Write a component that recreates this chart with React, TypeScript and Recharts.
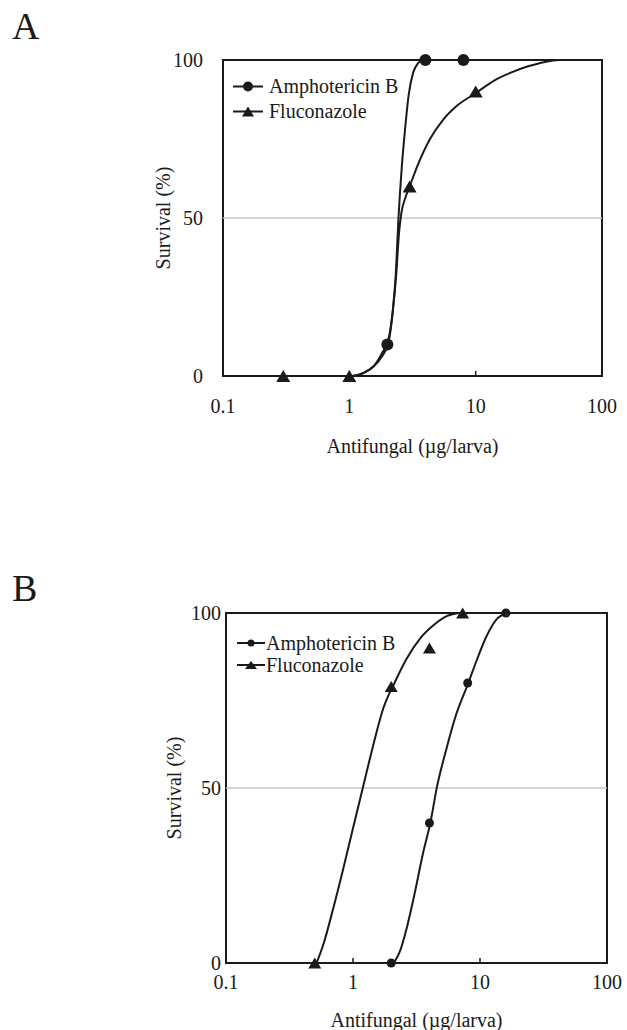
import React from "react";
import {
  ComposedChart,
  Line,
  Scatter,
  XAxis,
  YAxis,
  ReferenceLine,
  ReferenceArea,
  Legend
} from "recharts";

const xTicks = [0.1, 1, 10, 100];
const yTicks = [0, 50, 100];
const seriesNames = ["Amphotericin B", "Fluconazole"];

// Panel A - measured points
const ampAX = [2, 4, 8];
const ampAY = [10, 100, 100];
const fluAX = [0.3, 1, 3, 10];
const fluAY = [0, 0, 60, 90];

// Panel A - fitted curves
const ampACurveX = [1.05, 1.3, 1.55, 1.8, 2.05, 2.2, 2.33, 2.45, 2.6, 2.76, 2.95, 3.2, 3.5, 3.8, 8];
const ampACurveY = [0, 1, 3, 6, 11, 20, 32, 50, 66, 78, 89, 96, 99, 100, 100];
const fluACurveX = [1.05, 1.3, 1.55, 1.8, 2.05, 2.2, 2.35, 2.47, 2.58, 2.78, 3, 3.5, 4.35, 5.5, 7.1, 10, 14, 19, 26, 32, 46, 100];
const fluACurveY = [0, 1, 3, 7, 12, 20, 32, 45, 51.5, 56.5, 60, 67, 75, 81, 85.5, 89.5, 93.5, 96, 98, 99, 100, 100];

// Panel B - measured points
const ampBX = [2, 4, 8, 16];
const ampBY = [0, 40, 80, 100];
const fluBX = [0.5, 2, 4, 7.3];
const fluBY = [0, 79, 90, 100];

// Panel B - fitted curves
const ampBCurveX = [2.1, 2.34, 2.65, 3.08, 3.58, 4.04, 4.6, 5.47, 6.36, 8.09, 9.42, 11.3, 13.5, 16.2];
const ampBCurveY = [0, 3.3, 10, 20.4, 31.8, 39.6, 50.6, 61.5, 70, 80, 86.5, 93.5, 98.2, 100];
const fluBCurveX = [0.517, 0.583, 0.7, 0.84, 1.0, 1.205, 1.445, 1.73, 2.14, 2.65, 3.37, 4.3, 5.47, 6.75];
const fluBCurveY = [0, 5.2, 15.7, 27.1, 38.5, 50.6, 62.3, 72.7, 80.3, 87, 92.7, 96.5, 99.1, 100];

const zip = (xs: number[], ys: number[]) => xs.map((x, i) => ({ x, y: ys[i] }));

const FONT = '"Liberation Serif", "Times New Roman", serif';
const INK = "#1a1a1a";

const circleShape = (r: number) => (props: any) =>
  <circle cx={props.cx} cy={props.cy} r={r} fill={INK} />;

const triangleShape = (hw: number, h: number) => (props: any) => {
  const { cx, cy } = props;
  return (
    <polygon
      points={`${cx},${cy - h / 2} ${cx - hw},${cy + h / 2} ${cx + hw},${cy + h / 2}`}
      fill={INK}
    />
  );
};

const LegendBox = ({ rowH, iconW, lineW, r, hw, h }: any) => (
  <div style={{ fontFamily: FONT, fontSize: 20, color: INK }}>
    {seriesNames.map((name, i) => (
      <div key={name} style={{ display: "flex", alignItems: "center", height: rowH }}>
        <svg width={iconW} height={rowH}>
          <line x1={0} x2={lineW} y1={rowH / 2} y2={rowH / 2} stroke={INK} strokeWidth={2} />
          {i === 0 ? (
            <circle cx={lineW / 2} cy={rowH / 2} r={r} fill={INK} />
          ) : (
            <polygon
              points={`${lineW / 2},${rowH / 2 - h / 2} ${lineW / 2 - hw},${rowH / 2 + h / 2} ${lineW / 2 + hw},${rowH / 2 + h / 2}`}
              fill={INK}
            />
          )}
        </svg>
        <span>{name}</span>
      </div>
    ))}
  </div>
);

const Panel = ({ cfg, amp, flu, ampCurve, fluCurve }: any) => (
  <ComposedChart width={627} height={cfg.height} margin={cfg.margin}>
    <ReferenceLine y={50} stroke="#c8c8c8" strokeWidth={1.5} />
    <XAxis
      dataKey="x"
      type="number"
      scale="log"
      domain={[0.1, 100]}
      ticks={xTicks}
      allowDataOverflow
      height={cfg.xAxisHeight}
      axisLine={false}
      tickSize={-5}
      tickMargin={cfg.xTickMargin}
      tickLine={{ stroke: INK, strokeWidth: 1.5 }}
      tick={{ fontFamily: FONT, fontSize: 20, fill: INK }}
      label={{
        value: "Antifungal (\u00b5g/larva)",
        position: "insideBottom",
        offset: cfg.xLabelOffset,
        style: { fontFamily: FONT, fontSize: 20, fill: INK }
      }}
    />
    <YAxis
      dataKey="y"
      type="number"
      domain={[0, 100]}
      ticks={yTicks}
      width={60}
      axisLine={false}
      tickLine={false}
      tickSize={0}
      tickMargin={cfg.yTickMargin}
      tick={{ fontFamily: FONT, fontSize: 20, fill: INK }}
      label={{
        value: "Survival (%)",
        angle: -90,
        position: "insideLeft",
        offset: cfg.yLabelOffset,
        style: { fontFamily: FONT, fontSize: 20, fill: INK, textAnchor: "middle" }
      }}
    />
    <ReferenceArea x1={0.1} x2={100} y1={0} y2={100} fill="none" stroke={INK} strokeWidth={2} />
    <Line data={ampCurve} dataKey="y" type="monotone" stroke={INK} strokeWidth={2} dot={false} isAnimationActive={false} />
    <Line data={fluCurve} dataKey="y" type="monotone" stroke={INK} strokeWidth={2} dot={false} isAnimationActive={false} />
    <Scatter data={amp} dataKey="y" shape={circleShape(cfg.r)} isAnimationActive={false} />
    <Scatter data={flu} dataKey="y" shape={triangleShape(cfg.hw, cfg.h)} isAnimationActive={false} />
    <Legend
      layout="vertical"
      align="center"
      verticalAlign="middle"
      wrapperStyle={{ left: cfg.legend.left, top: cfg.legend.top, width: "auto", height: "auto" }}
      content={() => <LegendBox {...cfg.legend} />}
    />
  </ComposedChart>
);

const cfgA = {
  height: 480,
  margin: { top: 60, right: 25, left: 163, bottom: 4 },
  xAxisHeight: 100,
  xTickMargin: 28,
  xLabelOffset: 23,
  yTickMargin: 20,
  yLabelOffset: 0,
  r: 6,
  hw: 7,
  h: 12,
  legend: { left: 233, top: 74, rowH: 25, iconW: 36, lineW: 30, r: 5, hw: 6, h: 10 }
};

const cfgB = {
  height: 470,
  margin: { top: 53, right: 20, left: 166, bottom: 3 },
  xAxisHeight: 64,
  xTickMargin: 17,
  xLabelOffset: 0,
  yTickMargin: 5,
  yLabelOffset: 8,
  r: 4.5,
  hw: 6.5,
  h: 11,
  legend: { left: 237, top: 72, rowH: 22, iconW: 29, lineW: 28, r: 3.5, hw: 6, h: 8 }
};

const letterStyle: React.CSSProperties = {
  position: "absolute",
  left: 12,
  fontFamily: FONT,
  fontSize: 38,
  lineHeight: "38px",
  color: INK
};

export default function App() {
  return (
    <div style={{ position: "absolute", left: 0, top: 0, width: 627, height: 1030, background: "#fff" }}>
      <div style={{ ...letterStyle, top: 7 }}>A</div>
      <div style={{ ...letterStyle, top: 569 }}>B</div>
      <div style={{ position: "absolute", left: 0, top: 0 }}>
        <Panel
          cfg={cfgA}
          amp={zip(ampAX, ampAY)}
          flu={zip(fluAX, fluAY)}
          ampCurve={zip(ampACurveX, ampACurveY)}
          fluCurve={zip(fluACurveX, fluACurveY)}
        />
      </div>
      <div style={{ position: "absolute", left: 0, top: 560 }}>
        <Panel
          cfg={cfgB}
          amp={zip(ampBX, ampBY)}
          flu={zip(fluBX, fluBY)}
          ampCurve={zip(ampBCurveX, ampBCurveY)}
          fluCurve={zip(fluBCurveX, fluBCurveY)}
        />
      </div>
    </div>
  );
}
